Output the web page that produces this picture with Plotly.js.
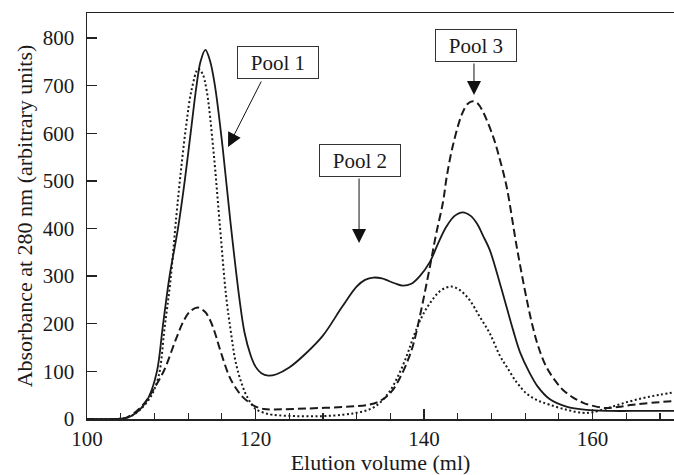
<!DOCTYPE html>
<html>
<head>
<meta charset="utf-8">
<script src="https://cdn.plot.ly/plotly-3.0.1.min.js"></script>
<style>html,body{margin:0;padding:0;background:#fff;}#chart{width:674px;height:475px;}</style>
</head>
<body>
<div id="chart"></div>
<script>
// Elution volume (ml) and absorbance at 280 nm (arbitrary units)
const solidX = [100, 103, 104, 104.8, 105.5, 106.3, 107.3, 108.3, 109.0, 109.8, 110.8, 111.6, 112.3, 113.0, 113.5, 114.05, 114.6, 115.2, 116.1, 117.0, 118.1, 118.7, 119.4, 120.0, 120.7, 121.5, 122.5, 124, 126, 128, 130.3, 132, 133, 134, 135, 136.5, 137.5, 138.5, 139.5, 140.7, 141.7, 142.66, 143.6, 144.6, 145.5, 146.3, 147, 147.8, 149, 149.8, 150.6, 151.4, 152.5, 153.5, 154.9, 156.9, 159.3, 162, 166, 170];
const solidY = [0, 0, 0.5, 3, 9, 20, 45, 100, 195, 300, 400, 500, 600, 700, 752, 775, 752, 698, 570, 418, 251, 181, 135, 110, 96, 91, 94, 108, 138, 175, 236, 278, 292, 297, 295, 285, 280, 284, 300, 330, 370, 404, 426, 434, 427, 410, 385, 355, 285, 235, 185, 140, 98, 68, 42, 26, 19, 17, 17, 17];

const dotX = [100, 103.5, 104.8, 106, 107.5, 108.5, 109.2, 109.9, 110.6, 111.2, 111.8, 112.4, 113.2, 113.7, 114.2, 115.0, 115.8, 116.5, 117.1, 117.7, 118.7, 119.5, 120.1, 121, 122, 125, 128, 130.4, 132, 133.5, 134.7, 136, 137.1, 138, 138.7, 139.7, 140.7, 142, 143.25, 144.3, 145.4, 146.6, 147.8, 149, 149.8, 151, 152.2, 153.5, 154.9, 156.9, 158.8, 160, 162, 164, 166, 168, 170];
const dotY = [0, 0, 3, 15, 45, 90, 190, 290, 425, 530, 620, 690, 735, 725, 690, 565, 400, 260, 180, 115, 58, 32, 20, 13, 9, 6, 6, 9, 13, 20, 33, 60, 97, 135, 170, 213, 243, 270, 278, 270, 250, 215, 180, 133, 110, 77, 53, 39, 30, 19.5, 13, 14, 24, 35, 44, 51, 57];

const dashX = [100, 104, 104.8, 105.8, 106.85, 108, 109.2, 110.5, 111.5, 112.3, 113.2, 114.0, 114.6, 115.2, 115.75, 116.9, 117.7, 118.5, 119.9, 121, 122.1, 126, 131.2, 133.5, 134.7, 135.6, 136.3, 137.1, 137.9, 138.7, 139.5, 140.7, 141.4, 142.25, 142.7, 143.4, 144.5, 145.2, 145.8, 146.4, 147, 148.2, 149, 149.8, 151, 152.2, 152.9, 153.6, 154.5, 155.5, 156.5, 157.7, 158.9, 160.2, 161.6, 163, 164.8, 167, 170];
const dashY = [0, 0, 4, 15, 34, 65, 104, 165, 207, 227, 234, 225, 208, 180, 148, 89, 64, 46, 27, 21, 20, 22, 26, 30, 37, 48, 61, 85, 115, 155, 215, 320, 385, 455, 509, 572, 640, 662, 667, 662, 645, 593, 545, 488, 362, 250, 194, 150, 110, 82, 61, 45, 34, 27, 23, 25, 30, 34, 38];

const xTickVals = [100, 120, 140, 160];
const yTickVals = [0, 100, 200, 300, 400, 500, 600, 700, 800];

const poolLabels = ['Pool 1', 'Pool 2', 'Pool 3'];
const poolLabelX = [122.67, 132.46, 146.11];
const poolLabelY = [748.5, 542.7, 784.2];
const arrowTailX = [120.77, 132.29, 145.93];
const arrowTailY = [711.7, 508, 749.5];
const arrowTipX = [116.74, 132.29, 145.93];
const arrowTipY = [571.1, 369.5, 680.2];

const FONT = '"Liberation Serif", "Times New Roman", serif';
const INK = '#1a1a1a';

const traces = [
  {x: dotX, y: dotY, mode: 'lines', line: {color: INK, width: 2, dash: '2px,2.5px', shape: 'spline', smoothing: 1}, hoverinfo: 'skip'},
  {x: dashX, y: dashY, mode: 'lines', line: {color: INK, width: 2, dash: '8px,4px', shape: 'spline', smoothing: 1}, hoverinfo: 'skip'},
  {x: solidX, y: solidY, mode: 'lines', line: {color: INK, width: 1.8, shape: 'spline', smoothing: 1}, hoverinfo: 'skip'}
];

const annotations = [];
for (let i = 0; i < poolLabels.length; i++) {
  annotations.push({
    x: poolLabelX[i], y: poolLabelY[i], xref: 'x', yref: 'y',
    text: poolLabels[i], showarrow: false,
    font: {family: FONT, size: 21, color: INK},
    bgcolor: '#fff', bordercolor: '#333', borderwidth: 1, borderpad: 0,
    width: 80, height: 31, align: 'center', valign: 'middle'
  });
  annotations.push({
    x: arrowTipX[i], y: arrowTipY[i], xref: 'x', yref: 'y',
    ax: arrowTailX[i], ay: arrowTailY[i], axref: 'x', ayref: 'y',
    text: '', showarrow: true, arrowhead: 2, arrowsize: 2.8, arrowwidth: 1, arrowcolor: '#111'
  });
}

const layout = {
  width: 674, height: 475,
  margin: {l: 87, r: 0, t: 13, b: 56},
  paper_bgcolor: '#fff', plot_bgcolor: '#fff',
  showlegend: false,
  font: {family: FONT, size: 21, color: INK},
  xaxis: {
    range: [100, 169.67], showgrid: false, zeroline: false,
    showline: true, linecolor: '#222', linewidth: 1.5, mirror: true,
    ticks: 'inside', ticklen: 10, tickwidth: 1.3, tickcolor: '#222',
    tickmode: 'array', tickvals: xTickVals, ticktext: xTickVals.map(String),
    minor: {dtick: 4, tick0: 100, ticks: 'inside', ticklen: 6, tickwidth: 1.2, tickcolor: '#222'},
    tickfont: {family: FONT, size: 21, color: INK},
    title: {text: 'Elution volume (ml)', font: {family: FONT, size: 22, color: INK}, standoff: 6}
  },
  yaxis: {
    range: [0, 852.4], showgrid: false, zeroline: false,
    showline: true, linecolor: '#222', linewidth: 1.5,
    ticks: 'inside', ticklen: 10, tickwidth: 1.3, tickcolor: '#222',
    tickmode: 'array', tickvals: yTickVals, ticktext: yTickVals.map(String),
    tickfont: {family: FONT, size: 21, color: INK},
    ticklabelstandoff: 7,
    title: {text: 'Absorbance at 280 nm (arbitrary units)', font: {family: FONT, size: 22, color: INK}, standoff: 4}
  },
  annotations: annotations
};

Plotly.newPlot('chart', traces, layout, {staticPlot: true, displayModeBar: false});
</script>
</body>
</html>
